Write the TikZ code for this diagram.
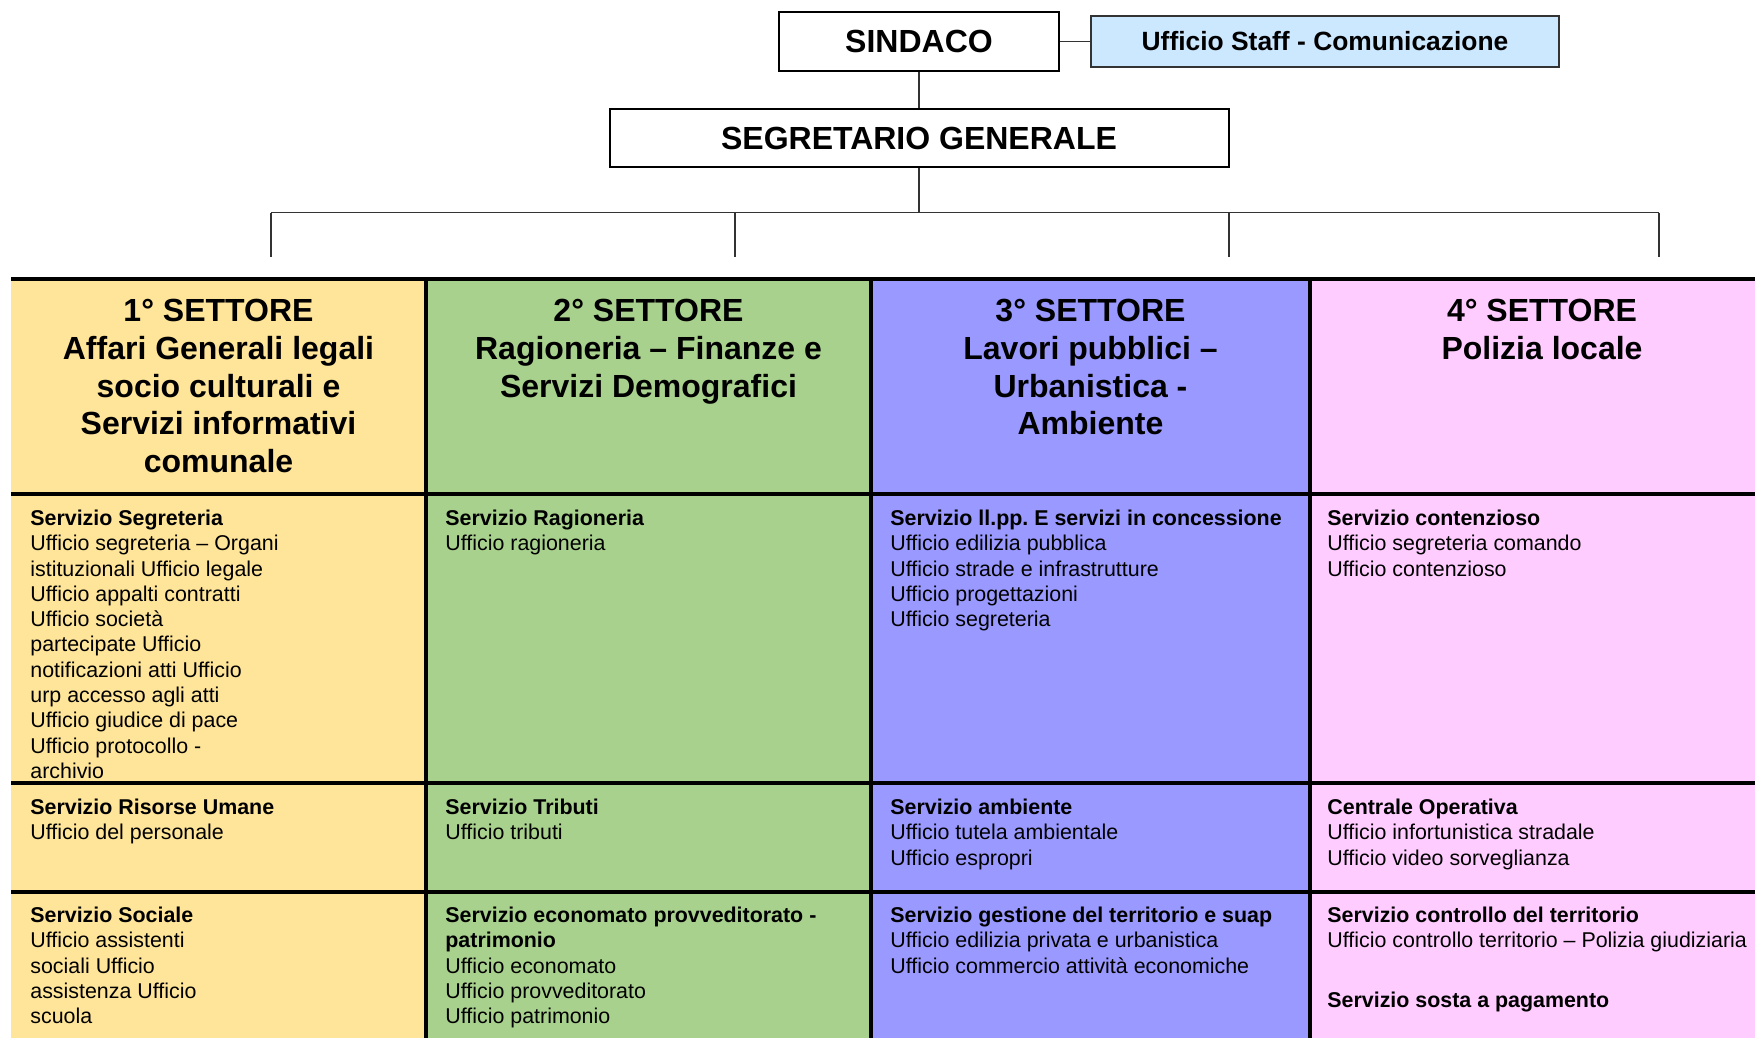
\documentclass[tikz,border=0pt]{standalone}
\usepackage{fontspec}
\setmainfont{Liberation Sans}
\definecolor{settoreA}{HTML}{FFE599}
\definecolor{settoreB}{HTML}{A9D18E}
\definecolor{settoreC}{HTML}{9999FF}
\definecolor{settoreD}{HTML}{FFCCFF}
\definecolor{staffblu}{HTML}{CCE8FF}
\tikzset{
  capo/.style={draw=black,line width=1pt,fill=white,font=\fontsize{16}{19}\selectfont\bfseries},
  staffbox/.style={draw=black!80,line width=1pt,fill=staffblu,font=\fontsize{13.2}{15}\selectfont\bfseries},
  filo/.style={draw=black!80,line width=0.7pt},
  griglia/.style={line width=1.6pt},
  titolo/.style={font=\fontsize{16}{18.9}\selectfont\bfseries,align=center,anchor=north,inner sep=0pt,execute at begin node=\strut},
  voce/.style={font=\fontsize{10.7}{12.65}\selectfont,align=left,anchor=north west,inner sep=0pt,execute at begin node=\strut}
}
\begin{document}
\begin{tikzpicture}[x=0.5pt,y=-0.5pt]
\useasboundingbox (0,0) rectangle (1755,1038);
\clip (0,0) rectangle (1755,1038);

% Sindaco, staff e segretario
\node[capo,minimum width=140pt,minimum height=29.5pt] (sindaco) at (919,41.5) {SINDACO};
\node[staffbox,minimum width=234pt,minimum height=25.5pt] (staff) at (1325,41.5) {Ufficio Staff - Comunicazione};
\node[capo,minimum width=309.5pt,minimum height=29pt] (segretario) at (919,138) {SEGRETARIO GENERALE};
\draw[filo] (sindaco) -- (staff);
\draw[filo] (sindaco) -- (segretario);

% Linea verso i settori
\coordinate (bus) at (919,212.5);
\foreach \n/\x in {1/271,2/735,3/1229,4/1659} {
  \coordinate (t\n) at (\x,212.5);
  \coordinate (d\n) at (\x,257);
}
\draw[filo] (segretario) -- (bus);
\draw[filo] (t1) -- (t4);
\foreach \n in {1,...,4} {
  \draw[filo] (t\n) -- (d\n);
}

% Tabella dei settori
\foreach \a/\b/\c in {11/426/settoreA,426/871/settoreB,871/1310/settoreC,1310/1780/settoreD} {
  \fill[\c] (\a,279) rectangle (\b,1045);
}
\foreach \y in {279,494,783,892} {
  \draw[griglia] (11,\y) -- (1780,\y);
}
\foreach \x in {426,871,1310} {
  \draw[griglia] (\x,279) -- (\x,1045);
}

% Intestazioni
\node[titolo] (set1) at (218.5,298.7) {1° SETTORE\\Affari Generali legali\\socio culturali e\\Servizi informativi\\comunale};
\node[titolo] (set2) at (648.5,298.7) {2° SETTORE\\Ragioneria – Finanze e\\Servizi Demografici};
\node[titolo] (set3) at (1090.5,298.7) {3° SETTORE\\Lavori pubblici –\\Urbanistica -\\Ambiente};
\node[titolo] (set4) at (1542,298.7) {4° SETTORE\\Polizia locale};

% Prima fila di servizi
\node[voce] (s1a) at (30,509.5) {\textbf{Servizio Segreteria}\\Ufficio segreteria – Organi\\istituzionali Ufficio legale\\Ufficio appalti contratti\\Ufficio società\\partecipate Ufficio\\notificazioni atti Ufficio\\urp accesso agli atti\\Ufficio giudice di pace\\Ufficio protocollo -\\archivio};
\node[voce] (s2a) at (445,509.5) {\textbf{Servizio Ragioneria}\\Ufficio ragioneria};
\node[voce] (s3a) at (890,509.5) {\textbf{Servizio ll.pp.\ E servizi in concessione}\\Ufficio edilizia pubblica\\Ufficio strade e infrastrutture\\Ufficio progettazioni\\Ufficio segreteria};
\node[voce] (s4a) at (1327,509.5) {\textbf{Servizio contenzioso}\\Ufficio segreteria comando\\Ufficio contenzioso};

% Seconda fila
\node[voce] (s1b) at (30,798.5) {\textbf{Servizio Risorse Umane}\\Ufficio del personale};
\node[voce] (s2b) at (445,798.5) {\textbf{Servizio Tributi}\\Ufficio tributi};
\node[voce] (s3b) at (890,798.5) {\textbf{Servizio ambiente}\\Ufficio tutela ambientale\\Ufficio espropri};
\node[voce] (s4b) at (1327,798.5) {\textbf{Centrale Operativa}\\Ufficio infortunistica stradale\\Ufficio video sorveglianza};

% Terza fila
\node[voce] (s1c) at (30,906.5) {\textbf{Servizio Sociale}\\Ufficio assistenti\\sociali Ufficio\\assistenza Ufficio\\scuola};
\node[voce] (s2c) at (445,906.5) {\textbf{Servizio economato provveditorato -}\\\textbf{patrimonio}\\Ufficio economato\\Ufficio provveditorato\\Ufficio patrimonio};
\node[voce] (s3c) at (890,906.5) {\textbf{Servizio gestione del territorio e suap}\\Ufficio edilizia privata e urbanistica\\Ufficio commercio attività economiche};
\node[voce] (s4c) at (1327,906.5) {\textbf{Servizio controllo del territorio}\\Ufficio controllo territorio – Polizia giudiziaria\\[17pt]\textbf{Servizio sosta a pagamento}};
\end{tikzpicture}
\end{document}
